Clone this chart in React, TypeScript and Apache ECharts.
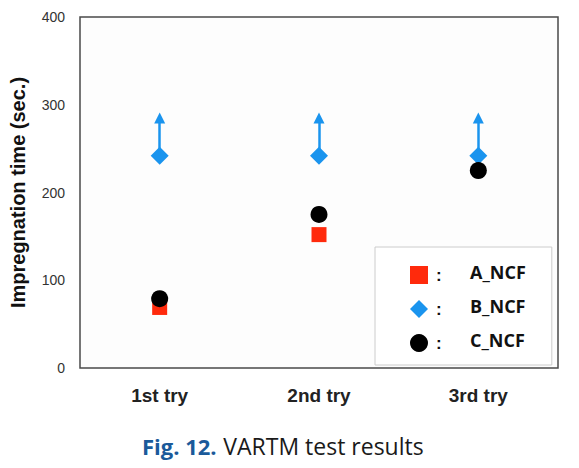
import React, { useEffect, useRef } from "react";
import * as echarts from "echarts";

const categories = ["1st try", "2nd try", "3rd try"];
const aNCF: (number | null)[] = [69, 152, null];
const bNCF = [242, 242, 242];
const cNCF = [79, 175, 225];
const bArrowTop = [285, 285, 285];
const yTicks = [0, 100, 200, 300, 400];
const yName = "Impregnation time (sec.)";
const caption = ["Fig. 12.", "VARTM test results"];

export default function App() {
  const ref = useRef<HTMLDivElement>(null);
  useEffect(() => {
    if (!ref.current) return;
    const chart = echarts.init(ref.current, undefined, { renderer: "svg" });
    const legendRich = {
      c: { width: 34, fontSize: 17, fontWeight: "bold", color: "#111", padding: [0, 0, 0, 3] },
      n: { width: 70, fontSize: 18, fontWeight: "bold", color: "#111", fontFamily: "Open Sans", padding: [0, 0, 6, 0] },
    };
    chart.setOption({
      animation: false,
      backgroundColor: "#ffffff",
      grid: {
        left: 79,
        right: 21,
        top: 17,
        bottom: 100,
        show: true,
        borderColor: "#4a4a4a",
        borderWidth: 1.5,
        backgroundColor: "#fdfdfd",
      },
      xAxis: {
        type: "category",
        data: categories,
        boundaryGap: true,
        axisLine: { show: false },
        axisTick: { show: false },
        axisLabel: {
          margin: 18,
          fontSize: 19,
          fontWeight: "bold",
          color: "#222",
          fontFamily: "Liberation Sans",
        },
      },
      yAxis: {
        type: "value",
        min: yTicks[0],
        max: yTicks[yTicks.length - 1],
        interval: 100,
        name: yName,
        nameLocation: "middle",
        nameGap: 52,
        nameTextStyle: { fontSize: 20, fontWeight: "bold", color: "#111", fontFamily: "Liberation Sans" },
        splitLine: { show: false },
        axisLine: { show: false },
        axisTick: { show: false },
        axisLabel: { margin: 15, fontSize: 14, color: "#333", fontFamily: "Liberation Sans" },
      },
      legend: {
        orient: "vertical",
        left: 375,
        top: 247,
        padding: [16, 26, 13, 35],
        itemGap: 13,
        itemWidth: 18,
        itemHeight: 18,
        backgroundColor: "#ffffff",
        borderColor: "#cccccc",
        borderWidth: 1,
        borderRadius: 0,
        data: [
          { name: "A_NCF", icon: "rect" },
          { name: "B_NCF", icon: "diamond" },
          { name: "C_NCF", icon: "circle" },
        ],
        formatter: (name: string) => `{c|:}{n|${name}}`,
        textStyle: { rich: legendRich },
      },
      graphic: [
        {
          type: "text",
          left: 142,
          top: 434,
          style: {
            text: `{a|${caption[0]}}  {b|${caption[1]}}`,
            rich: {
              a: { fontSize: 22, fontWeight: "bold", fill: "#1b5a9a", fontFamily: "Open Sans" },
              b: { fontSize: 23, fill: "#1a1a1a", fontFamily: "Open Sans" },
            },
          },
        },
      ],
      series: [
        {
          name: "A_NCF",
          type: "scatter",
          symbol: "rect",
          symbolSize: 15,
          itemStyle: { color: "#ff2a0c", opacity: 1 },
          data: aNCF.map((v) => (v == null ? "-" : v)),
          z: 3,
        },
        {
          name: "B_NCF",
          type: "scatter",
          symbol: "diamond",
          symbolSize: [18, 18],
          itemStyle: { color: "#1a94ee", opacity: 1 },
          data: bNCF,
          z: 4,
          markLine: {
            silent: true,
            symbol: ["none", "triangle"],
            symbolSize: [11, 11],
            label: { show: false },
            lineStyle: { color: "#1a94ee", width: 2.5, type: "solid", opacity: 1 },
            data: categories.map((c, i) => [
              { coord: [i, bNCF[i]] },
              { coord: [i, bArrowTop[i]] },
            ]),
          },
        },
        {
          name: "C_NCF",
          type: "scatter",
          symbol: "circle",
          symbolSize: 17,
          itemStyle: { color: "#000000", opacity: 1 },
          data: cNCF,
          z: 5,
        },
      ],
    });
    return () => chart.dispose();
  }, []);
  return (
    <div
      ref={ref}
      style={{ position: "fixed", left: 0, top: 0, width: 579, height: 468 }}
    />
  );
}
